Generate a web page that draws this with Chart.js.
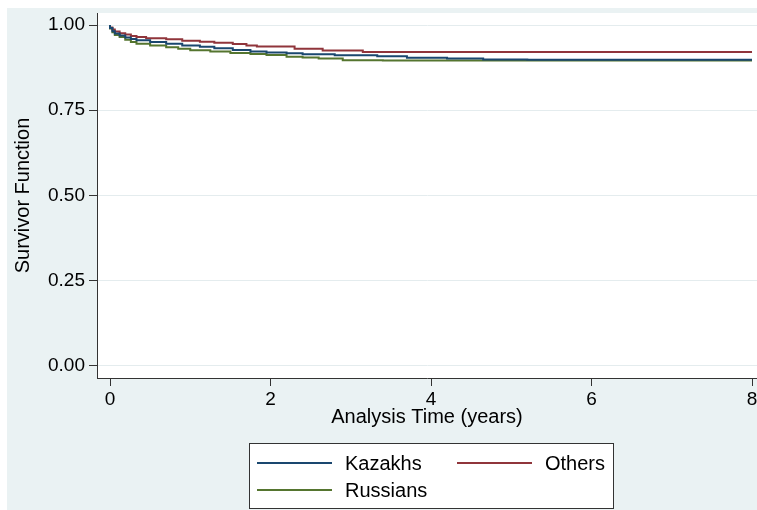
<!DOCTYPE html>
<html>
<head>
<meta charset="utf-8">
<script src="https://cdn.jsdelivr.net/npm/chart.js@4"></script>
<style>
  html, body { margin: 0; padding: 0; background: #ffffff; }
  #wrap { width: 757px; height: 510px; }
</style>
</head>
<body>
<div id="wrap"><canvas id="myChart" width="757" height="510"></canvas></div>
<script>
// Kaplan-Meier estimates (time in years, survival)
const kazakhsTime = [0, 0.03, 0.06, 0.12, 0.19, 0.26, 0.33, 0.5, 0.7, 0.9, 1.12, 1.3, 1.53, 1.75, 1.95, 2.2, 2.4, 2.8, 3.33, 3.7, 4.2, 4.65, 5.2, 5.36, 8];
const kazakhsSurv = [1.0, 0.991, 0.982, 0.975, 0.969, 0.963, 0.959, 0.955, 0.950, 0.945, 0.940, 0.936, 0.932, 0.927, 0.922, 0.919, 0.917, 0.914, 0.911, 0.908, 0.904, 0.902, 0.899, 0.898, 0.898];

const othersTime = [0, 0.03, 0.06, 0.12, 0.19, 0.26, 0.33, 0.45, 0.7, 0.9, 1.12, 1.3, 1.53, 1.7, 1.83, 2.3, 2.65, 3.15, 3.84, 8];
const othersSurv = [1.0, 0.993, 0.987, 0.981, 0.976, 0.972, 0.968, 0.965, 0.961, 0.958, 0.954, 0.951, 0.948, 0.944, 0.940, 0.937, 0.930, 0.925, 0.921, 0.921];

const russiansTime = [0, 0.03, 0.06, 0.12, 0.19, 0.26, 0.33, 0.5, 0.7, 0.85, 1.0, 1.25, 1.5, 1.75, 1.95, 2.2, 2.4, 2.6, 2.9, 3.4, 3.9, 8];
const russiansSurv = [1.0, 0.990, 0.979, 0.971, 0.965, 0.957, 0.950, 0.945, 0.940, 0.935, 0.930, 0.926, 0.922, 0.918, 0.915, 0.912, 0.907, 0.905, 0.902, 0.897, 0.896, 0.896];

const xTicks = [0, 2, 4, 6, 8];
const yTicks = [0, 0.25, 0.5, 0.75, 1];

const toPoints = (t, s) => t.map((v, i) => ({ x: v, y: s[i] }));

const FONT = "'Liberation Sans', Arial, Helvetica, sans-serif";
const BG = '#eaf2f3';

// backgrounds + the boxed legend under the axis title
const stataLook = {
    id: 'stataLook',
    beforeDraw(chart) {
        const { ctx, chartArea: a, width, height } = chart;
        ctx.save();
        ctx.fillStyle = '#ffffff';
        ctx.fillRect(0, 0, width, height);
        ctx.fillStyle = BG;
        ctx.fillRect(7, 8, width - 7, height - 8);
        ctx.fillStyle = '#ffffff';
        ctx.fillRect(a.left, a.top, a.right - a.left, a.bottom - a.top);
        ctx.restore();
    },
    afterDraw(chart) {
        const ctx = chart.ctx;
        const ds = chart.data.datasets;
        ctx.save();
        ctx.fillStyle = '#ffffff';
        ctx.fillRect(249, 443, 364, 65);
        ctx.strokeStyle = '#333333';
        ctx.lineWidth = 1;
        ctx.strokeRect(249.5, 443.5, 364, 65);
        // order: Kazakhs, Others on row 1; Russians on row 2
        const slots = [
            { i: 0, x: 257, y: 463 },
            { i: 1, x: 457, y: 463 },
            { i: 2, x: 257, y: 490 }
        ];
        ctx.font = '20px ' + FONT;
        ctx.textBaseline = 'middle';
        slots.forEach(s => {
            ctx.strokeStyle = ds[s.i].borderColor;
            ctx.lineWidth = 2;
            ctx.beginPath();
            ctx.moveTo(s.x, s.y);
            ctx.lineTo(s.x + 75, s.y);
            ctx.stroke();
            ctx.fillStyle = '#000000';
            ctx.fillText(ds[s.i].label, s.x + 88, s.y + 1);
        });
        ctx.restore();
    }
};

const ctx = document.getElementById('myChart').getContext('2d');

const myChart = new Chart(ctx, {
    type: 'line',
    data: {
        datasets: [{
            label: 'Kazakhs',
            data: toPoints(kazakhsTime, kazakhsSurv),
            borderColor: '#1a476f',
        }, {
            label: 'Others',
            data: toPoints(othersTime, othersSurv),
            borderColor: '#90353b',
        }, {
            label: 'Russians',
            data: toPoints(russiansTime, russiansSurv),
            borderColor: '#55752f',
        }]
    },
    options: {
        responsive: false,
        animation: false,
        devicePixelRatio: 1,
        layout: { padding: { top: 13, right: 0, bottom: 81, left: 0 } },
        datasets: {
            line: { stepped: 'after', borderWidth: 2, pointRadius: 0, fill: false }
        },
        plugins: {
            legend: { display: false },
            tooltip: { enabled: false }
        },
        scales: {
            x: {
                type: 'linear',
                min: -0.162,
                max: 8.062,
                afterBuildTicks: s => { s.ticks = xTicks.map(v => ({ value: v })); },
                afterFit: s => { s.height = 51; s.paddingLeft = 0; s.paddingRight = 0; },
                ticks: {
                    color: '#000',
                    padding: 2,
                    maxRotation: 0,
                    autoSkip: false,
                    font: { family: FONT, size: 19 },
                    callback: v => String(v)
                },
                grid: { drawOnChartArea: false, tickLength: 8, tickColor: '#333', lineWidth: 1 },
                border: { color: '#333', width: 1 },
                title: {
                    display: true,
                    text: 'Analysis Time (years)',
                    color: '#000',
                    font: { family: FONT, size: 20 },
                    padding: { top: 0, bottom: 0 }
                }
            },
            y: {
                min: -0.0352,
                max: 1.0352,
                afterBuildTicks: s => { s.ticks = yTicks.map(v => ({ value: v })); },
                afterFit: s => { s.width = 97; s.paddingTop = 0; s.paddingBottom = 0; },
                ticks: {
                    color: '#000',
                    padding: 4,
                    font: { family: FONT, size: 19 },
                    callback: v => Number(v).toFixed(2)
                },
                grid: { color: '#e4ecee', tickColor: '#333', tickLength: 8, lineWidth: 1 },
                border: { color: '#333', width: 1 },
                title: {
                    display: true,
                    text: 'Survivor Function',
                    color: '#000',
                    font: { family: FONT, size: 20 },
                    padding: { top: 11, bottom: 0 }
                }
            }
        }
    },
    plugins: [stataLook]
});
</script>
</body>
</html>
